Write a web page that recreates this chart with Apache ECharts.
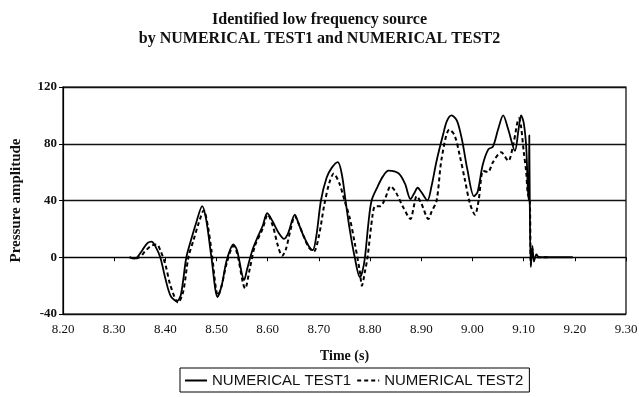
<!DOCTYPE html>
<html>
<head>
<meta charset="utf-8">
<script src="https://cdn.jsdelivr.net/npm/echarts@6/dist/echarts.min.js"></script>
<style>
    html, body {margin: 0; padding: 0; background: #fff;}
    #chart {width: 639px; height: 397px;}
</style>
</head>
<body>
<div id="chart"></div>
<script>
let titleLines = ['Identified low frequency source', 'by NUMERICAL TEST1 and NUMERICAL TEST2'];
let seriesNames = ['NUMERICAL TEST1', 'NUMERICAL TEST2'];

// time (s)
let test1Time = [8.33, 8.34, 8.345, 8.355, 8.365, 8.373, 8.38, 8.39, 8.40, 8.41, 8.422, 8.43, 8.441, 8.45, 8.46, 8.472,
    8.48, 8.49, 8.502, 8.51, 8.52, 8.533, 8.54, 8.554, 8.56, 8.57, 8.58, 8.59, 8.599, 8.61, 8.62, 8.632, 8.64, 8.653,
    8.66, 8.67, 8.68, 8.688, 8.695, 8.704, 8.715, 8.725, 8.737, 8.745, 8.752, 8.76, 8.77, 8.78, 8.785, 8.79, 8.797,
    8.803, 8.815, 8.825, 8.836, 8.856, 8.868, 8.879, 8.886, 8.893, 8.90, 8.912, 8.92, 8.93, 8.943, 8.95, 8.959, 8.97,
    8.98, 8.99, 9.003, 9.01, 9.02, 9.031, 9.04, 9.05, 9.06, 9.07, 9.083, 9.09, 9.095, 9.10, 9.105, 9.108, 9.110, 9.111,
    9.112, 9.114, 9.117, 9.12, 9.125, 9.13, 9.196];
let test1Value = [0, -1, 0, 5, 10, 11, 8, 0, -15, -27, -31, -27, 0, 12, 24, 36,
    26, 0, -28, -20, -2, 9, 5, -16, -8, 5, 14, 22, 31, 25, 18, 13, 17, 30,
    24, 15, 8, 5, 15, 40, 56, 63, 67, 58, 40, 20, 0, -14, -10, 0, 25,
    40, 50, 57, 61, 59, 52, 41, 45, 49, 46, 40, 50, 68, 87, 96, 100, 96,
    82, 62, 43, 46, 65, 76, 78, 90, 100, 90, 75, 90, 100, 95, 78, 50, 40, 86,
    40, -7, 8, -3, 2, 0, 0];

let test2Time = [8.33, 8.34, 8.35, 8.36, 8.372, 8.383, 8.39, 8.40, 8.41, 8.425, 8.435, 8.445, 8.455, 8.465, 8.475,
    8.483, 8.49, 8.503, 8.51, 8.52, 8.533, 8.54, 8.556, 8.565, 8.575, 8.59, 8.60, 8.61, 8.62, 8.628, 8.635, 8.645,
    8.653, 8.66, 8.67, 8.68, 8.69, 8.70, 8.71, 8.72, 8.729, 8.74, 8.75, 8.76, 8.77, 8.78, 8.784, 8.79, 8.795, 8.805,
    8.81, 8.82, 8.83, 8.84, 8.85, 8.865, 8.879, 8.885, 8.891, 8.90, 8.914, 8.92, 8.93, 8.94, 8.955, 8.965, 8.975,
    8.985, 8.995, 9.005, 9.012, 9.021, 9.03, 9.04, 9.056, 9.07, 9.08, 9.091, 9.095, 9.10, 9.105, 9.108, 9.112,
    9.114, 9.117, 9.12, 9.13, 9.15];
let test2Value = [0, -1, 0, 4, 8, 9, 5, -5, -20, -32, -24, 0, 12, 24, 33,
    22, 5, -27, -20, -4, 8, 3, -22, -8, 8, 20, 30, 22, 8, 1, 5, 20,
    29, 24, 15, 7, 4, 15, 36, 52, 59, 52, 40, 28, 10, -10, -20, -10, 0, 30,
    36, 36, 42, 50, 46, 35, 27, 35, 43, 38, 27, 32, 40, 70, 90, 86, 72,
    55, 38, 30, 40, 61, 60, 67, 74, 68, 80, 98, 92, 75, 60, 45, 40,
    -5, 6, 0, 0, 0];

let yMin = -40, yMax = 120, yStep = 40;
let xMin = 8.2, xMax = 9.3, xStep = 0.1;

function pairs(xs, ys) {
    let out = [];
    for (let i = 0; i < xs.length; i++) {
        out.push([xs[i], ys[i]]);
    }
    return out;
}

let serif = 'Liberation Serif';
let chart = echarts.init(document.getElementById('chart'));

let option = {
    backgroundColor: '#fff',
    animation: false,
    title: {
        text: titleLines.join('\n'),
        left: 'center',
        top: 5,
        textStyle: {
            fontFamily: serif,
            fontSize: 16,
            fontWeight: 'bold',
            color: '#111',
            lineHeight: 19
        }
    },
    grid: {
        left: 63,
        right: 13,
        top: 87,
        bottom: 83,
        outerBoundsMode: 'none',
        containLabel: false,
        show: true,
        borderColor: '#000',
        borderWidth: 1.2
    },
    legend: {
        left: 180,
        bottom: 5,
        itemGap: 5,
        itemWidth: 22,
        itemHeight: 10,
        padding: [5, 6, 4, 4],
        borderColor: '#000',
        borderWidth: 1,
        data: seriesNames,
        itemStyle: {opacity: 0},
        textStyle: {
            fontFamily: 'Liberation Sans',
            fontSize: 15,
            color: '#111'
        }
    },
    xAxis: {
        type: 'value',
        min: xMin,
        max: xMax,
        interval: xStep,
        name: 'Time (s)',
        nameLocation: 'middle',
        nameGap: 35,
        nameTextStyle: {
            fontFamily: serif,
            fontSize: 14,
            fontWeight: 'bold',
            color: '#111'
        },
        axisLine: {lineStyle: {color: '#000', width: 1.2}},
        axisTick: {show: true, length: 4, lineStyle: {color: '#000'}},
        axisLabel: {
            fontFamily: serif,
            fontSize: 13,
            color: '#111',
            margin: 9,
            formatter: function (v) {
                return v.toFixed(2);
            }
        },
        splitLine: {show: false}
    },
    yAxis: {
        type: 'value',
        min: yMin,
        max: yMax,
        interval: yStep,
        name: 'Pressure amplitude',
        nameLocation: 'middle',
        nameGap: 39,
        nameTextStyle: {
            fontFamily: serif,
            fontSize: 15,
            fontWeight: 'bold',
            color: '#111'
        },
        axisLine: {show: true, lineStyle: {color: '#000', width: 1.2}},
        axisTick: {show: true, length: 4, lineStyle: {color: '#000'}},
        axisLabel: {
            fontFamily: serif,
            fontSize: 13,
            fontWeight: 'bold',
            color: '#111',
            margin: 6
        },
        splitLine: {show: true, lineStyle: {color: '#111', width: 1.3}}
    },
    series: [
        {
            name: seriesNames[0],
            type: 'line',
            data: pairs(test1Time, test1Value),
            showSymbol: false,
            symbol: 'none',
            smooth: 0.3,
            lineStyle: {color: '#000', width: 1.8, type: 'solid'},
            itemStyle: {color: '#000'}
        },
        {
            name: seriesNames[1],
            type: 'line',
            data: pairs(test2Time, test2Value),
            showSymbol: false,
            symbol: 'none',
            smooth: 0.3,
            lineStyle: {color: '#000', width: 2, type: [4, 3]},
            itemStyle: {color: '#000'}
        }
    ]
};

chart.setOption(option);
</script>
</body>
</html>
